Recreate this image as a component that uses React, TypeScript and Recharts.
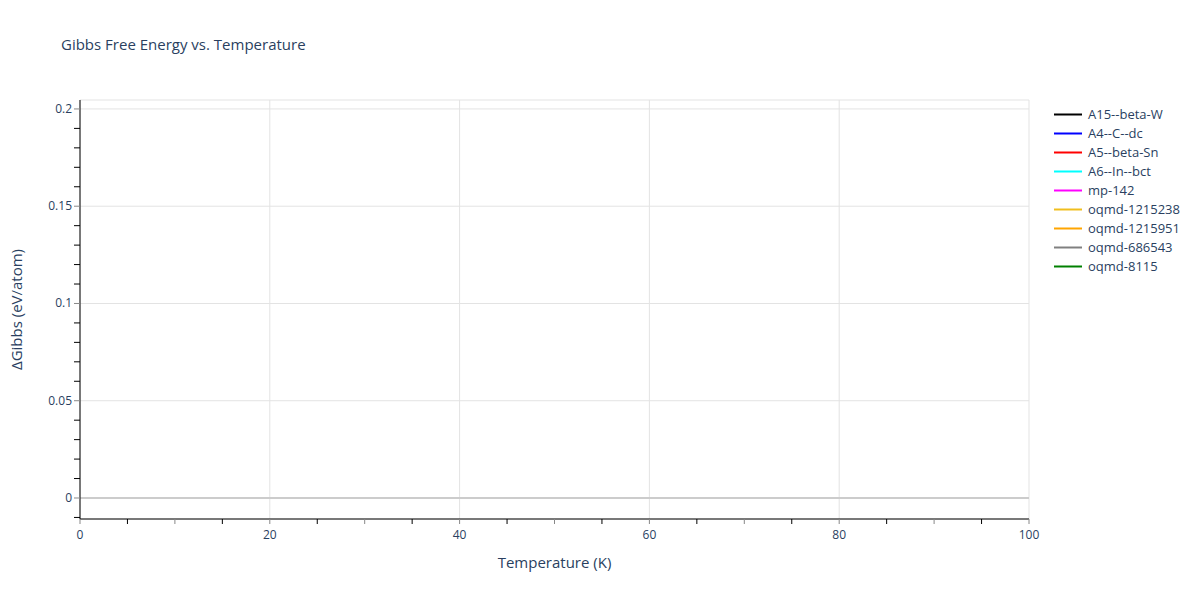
import React from 'react';
import { LineChart, Line, XAxis, YAxis, CartesianGrid, ReferenceLine } from 'recharts';

// the reference shows no curves inside the plot, only the legend entries
const temperatures: number[] = [];
const seriesNames = [
  'A15--beta-W',
  'A4--C--dc',
  'A5--beta-Sn',
  'A6--In--bct',
  'mp-142',
  'oqmd-1215238',
  'oqmd-1215951',
  'oqmd-686543',
  'oqmd-8115',
];
const seriesValues: number[][] = [[], [], [], [], [], [], [], [], []];
const seriesColors = ['#000000', '#0000ff', '#ff0000', '#00ffff', '#ff00ff', '#f0be1e', '#ffa500', '#808080', '#008000'];

const xMajorTicks = [0, 20, 40, 60, 80, 100];
const xMinorTicks = [0, 5, 10, 15, 20, 25, 30, 35, 40, 45, 50, 55, 60, 65, 70, 75, 80, 85, 90, 95, 100];
const yMajorTicks = [0, 0.05, 0.1, 0.15, 0.2];
const yMinorTicks = [-0.01, 0, 0.01, 0.02, 0.03, 0.04, 0.05, 0.06, 0.07, 0.08, 0.09, 0.1, 0.11, 0.12, 0.13, 0.14, 0.15, 0.16, 0.17, 0.18, 0.19, 0.2];

const FONT = '"Open Sans", "Noto Sans", sans-serif';
const TEXT = '#2a3f5f';

const data = temperatures.map((t, i) => {
  const row: Record<string, number> = { t };
  seriesNames.forEach((name, s) => {
    row[name] = seriesValues[s][i];
  });
  return row;
});

const isMult = (v: number, step: number) => Math.abs(v / step - Math.round(v / step)) < 1e-6;

const XTick = (props: any) => {
  const { x, y, payload } = props;
  const v = payload.value;
  return (
    <g>
      <line x1={x} y1={y} x2={x} y2={y + 5} stroke={isMult(v, 10) ? '#888' : '#000'} strokeWidth={1} />
      {isMult(v, 20) && (
        <text x={x} y={y + 20} textAnchor="middle" fill={TEXT} fontSize={12} fontFamily={FONT}>
          {v}
        </text>
      )}
    </g>
  );
};

const YTick = (props: any) => {
  const { x, y, payload } = props;
  const v = payload.value;
  const major = isMult(v, 0.05);
  return (
    <g>
      <line x1={x - 6} y1={y} x2={x} y2={y} stroke={major ? '#888' : '#000'} strokeWidth={1} />
      {major && (
        <text x={x - 8} y={y + 4} textAnchor="end" fill={TEXT} fontSize={12} fontFamily={FONT}>
          {Math.round(v * 100) / 100}
        </text>
      )}
    </g>
  );
};

export default function App() {
  return (
    <div style={{ position: 'absolute', left: 0, top: 0, width: 1200, height: 600, background: '#fff' }}>
      <div style={{ position: 'absolute', left: 61, top: 34, fontFamily: FONT, fontSize: 15, color: TEXT }}>
        Gibbs Free Energy vs. Temperature
      </div>
      <LineChart width={1200} height={600} data={data} margin={{ top: 100, right: 171, bottom: 51, left: 10 }}>
        <CartesianGrid xAxisId="grid" yAxisId="grid" stroke="#e3e3e3" strokeWidth={1} />
        <XAxis xAxisId="grid" dataKey="t" type="number" domain={[0, 100]} ticks={xMajorTicks} hide allowDataOverflow />
        <YAxis yAxisId="grid" type="number" domain={[-0.0108, 0.2046]} ticks={yMajorTicks} hide allowDataOverflow />
        <XAxis
          dataKey="t"
          type="number"
          domain={[0, 100]}
          ticks={xMinorTicks}
          interval={0}
          allowDataOverflow
          height={30}
          stroke="#000"
          tickLine={false}
          tickSize={0}
          tickMargin={0}
          tick={<XTick />}
          label={{ value: 'Temperature (K)', position: 'insideBottom', offset: -19, fill: TEXT, fontSize: 15, fontFamily: FONT }}
        />
        <YAxis
          type="number"
          domain={[-0.0108, 0.2046]}
          ticks={yMinorTicks}
          interval={0}
          allowDataOverflow
          width={70}
          stroke="#000"
          tickLine={false}
          tickSize={0}
          tickMargin={0}
          tick={<YTick />}
          label={{ value: 'ΔGibbs (eV/atom)', angle: -90, position: 'insideLeft', offset: 0, dx: 7, fill: TEXT, fontSize: 15, fontFamily: FONT, style: { textAnchor: 'middle' } }}
        />
        <ReferenceLine y={0} stroke="#cccccc" strokeWidth={2} />
        {seriesNames.map((name, i) => (
          <Line
            key={name}
            dataKey={name}
            name={name}
            stroke={seriesColors[i]}
            strokeWidth={2}
            dot={false}
            isAnimationActive={false}
          />
        ))}
      </LineChart>
      <div style={{ position: 'absolute', left: 1052, top: 104.5, fontFamily: FONT, fontSize: 13, color: TEXT }}>
        {seriesNames.map((name, i) => (
          <div key={name} style={{ display: 'flex', alignItems: 'center', height: 19 }}>
            <svg width={34} height={19}>
              <line x1={2} y1={9.5} x2={30} y2={9.5} stroke={seriesColors[i]} strokeWidth={2} />
            </svg>
            <span style={{ marginLeft: 2, whiteSpace: 'nowrap' }}>{name}</span>
          </div>
        ))}
      </div>
    </div>
  );
}
